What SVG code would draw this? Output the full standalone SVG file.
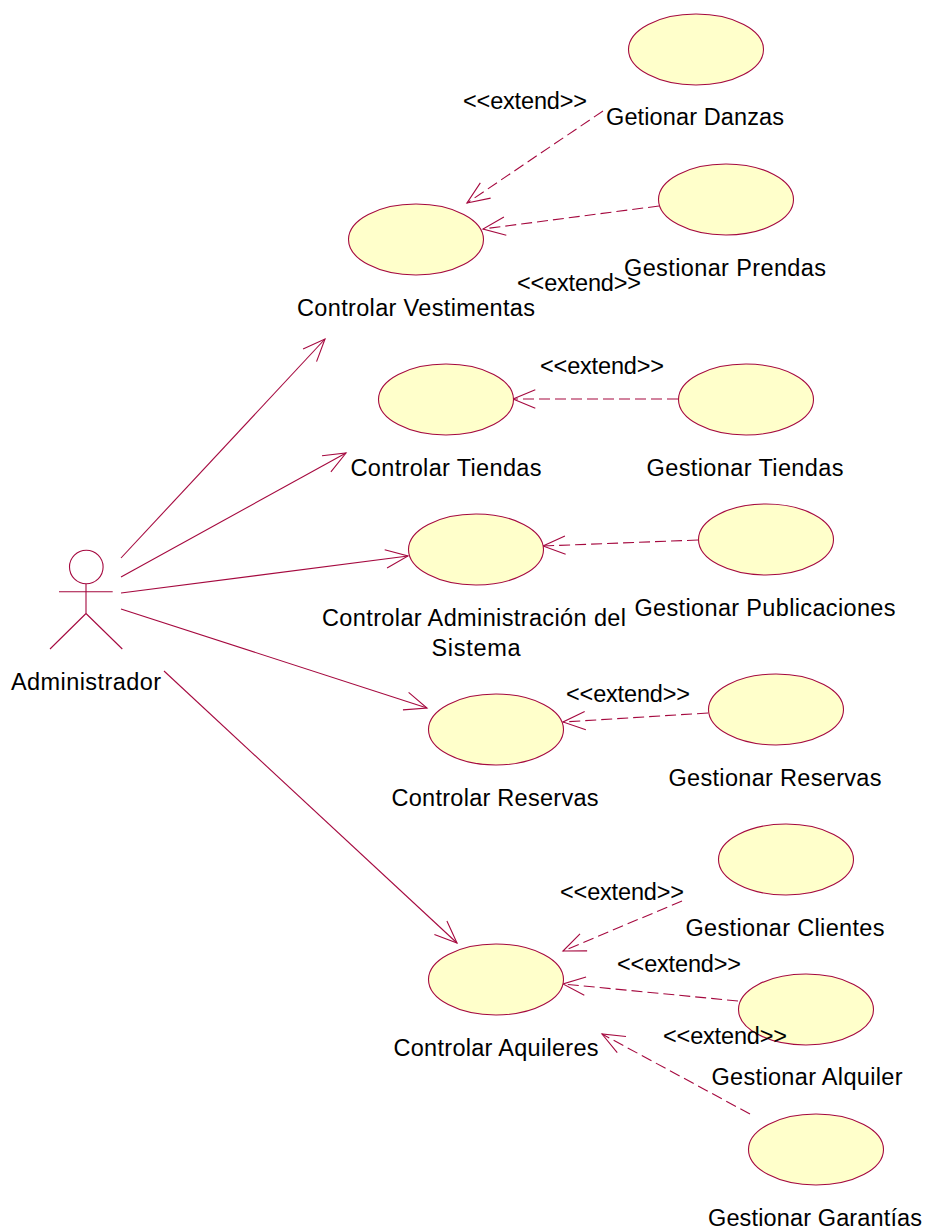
<svg xmlns="http://www.w3.org/2000/svg" width="928" height="1231" viewBox="0 0 928 1231">
<defs>
<style>
.u{fill:#ffffcb;stroke:#a5093f;stroke-width:1.1}
.l{fill:none;stroke:#a5093f;stroke-width:1.1}
.d{stroke-dasharray:11 5}
text{font-family:"Liberation Sans",Arial,sans-serif;font-size:23.5px;fill:#000;text-anchor:middle;transform:translateY(.5px)}
</style>
<marker id="a" markerUnits="userSpaceOnUse" markerWidth="30" markerHeight="30" refX="24" refY="13" orient="auto"><path d="M1.700 3.800L24 13L1.700 22.200" fill="none" stroke="#a5093f" stroke-width="1.1"/></marker>
</defs>
<rect width="928" height="1231" fill="#fff"/>
<g id="connectors">
<path class="l" marker-end="url(#a)" d="M121 558L325 339"/>
<path class="l" marker-end="url(#a)" d="M121 577L346 453"/>
<path class="l" marker-end="url(#a)" d="M121 593L408 556"/>
<path class="l" marker-end="url(#a)" d="M121 609L427 708"/>
<path class="l" marker-end="url(#a)" d="M164 671L457 943"/>
<path class="l d" marker-end="url(#a)" d="M603 111L467 203"/>
<path class="l d" marker-end="url(#a)" d="M659 206L483 229"/>
<path class="l d" marker-end="url(#a)" d="M678 399L513 399"/>
<path class="l d" marker-end="url(#a)" d="M698 540L543 546"/>
<path class="l d" marker-end="url(#a)" d="M708 713L563 722"/>
<path class="l d" marker-end="url(#a)" d="M682 901L563 951"/>
<path class="l d" marker-end="url(#a)" d="M738 1001L563 984"/>
<path class="l d" marker-end="url(#a)" d="M750 1114L602 1034"/>
</g>
<g id="administrador">
<circle class="l" cx="86.300" cy="567" r="16.800"/>
<path class="l" d="M59 591.700H112.700M86 584V613.500M86 613.500L50 649M86 613.500L122.300 649"/>
<text x="86" y="689" textLength="150">Administrador</text>
</g>
<g id="getionar-danzas"><ellipse class="u" cx="696" cy="49.500" rx="67.500" ry="35.500"/><text x="695" y="124" textLength="178">Getionar Danzas</text></g>
<g id="gestionar-prendas"><ellipse class="u" cx="726" cy="199.500" rx="67.500" ry="35.500"/><text x="725" y="275" textLength="202">Gestionar Prendas</text></g>
<g id="controlar-vestimentas"><ellipse class="u" cx="416" cy="239.500" rx="67.500" ry="35.500"/><text x="416" y="315" textLength="238">Controlar Vestimentas</text></g>
<g id="controlar-tiendas"><ellipse class="u" cx="446" cy="399.500" rx="67.500" ry="35.500"/><text x="446" y="475" textLength="191">Controlar Tiendas</text></g>
<g id="gestionar-tiendas"><ellipse class="u" cx="746" cy="399.500" rx="67.500" ry="35.500"/><text x="745" y="475" textLength="197">Gestionar Tiendas</text></g>
<g id="controlar-administracion"><ellipse class="u" cx="476" cy="549.500" rx="67.500" ry="35.500"/><text x="474" y="625" textLength="304">Controlar Administración del</text><text x="476" y="655" textLength="89">Sistema</text></g>
<g id="gestionar-publicaciones"><ellipse class="u" cx="766" cy="539.500" rx="67.500" ry="35.500"/><text x="765" y="615" textLength="261">Gestionar Publicaciones</text></g>
<g id="controlar-reservas"><ellipse class="u" cx="496" cy="729.500" rx="67.500" ry="35.500"/><text x="495" y="805" textLength="207">Controlar Reservas</text></g>
<g id="gestionar-reservas"><ellipse class="u" cx="776" cy="709.500" rx="67.500" ry="35.500"/><text x="775" y="785" textLength="213">Gestionar Reservas</text></g>
<g id="gestionar-clientes"><ellipse class="u" cx="786" cy="859.500" rx="67.500" ry="35.500"/><text x="785" y="935" textLength="199">Gestionar Clientes</text></g>
<g id="controlar-aquileres"><ellipse class="u" cx="496" cy="979.500" rx="67.500" ry="35.500"/><text x="496" y="1055" textLength="205">Controlar Aquileres</text></g>
<g id="gestionar-alquiler"><ellipse class="u" cx="806" cy="1009.500" rx="67.500" ry="35.500"/><text x="807" y="1084" textLength="191">Gestionar Alquiler</text></g>
<g id="gestionar-garantias"><ellipse class="u" cx="816" cy="1149.500" rx="67.500" ry="35.500"/><text x="815" y="1225" textLength="214">Gestionar Garantías</text></g>
<g id="labels">
<text x="525" y="108" textLength="124">&lt;&lt;extend&gt;&gt;</text>
<text x="579" y="290" textLength="124">&lt;&lt;extend&gt;&gt;</text>
<text x="602" y="373" textLength="124">&lt;&lt;extend&gt;&gt;</text>
<text x="628" y="701" textLength="124">&lt;&lt;extend&gt;&gt;</text>
<text x="622" y="899" textLength="124">&lt;&lt;extend&gt;&gt;</text>
<text x="679" y="971" textLength="124">&lt;&lt;extend&gt;&gt;</text>
<text x="725" y="1043" textLength="124">&lt;&lt;extend&gt;&gt;</text>
</g>
</svg>
